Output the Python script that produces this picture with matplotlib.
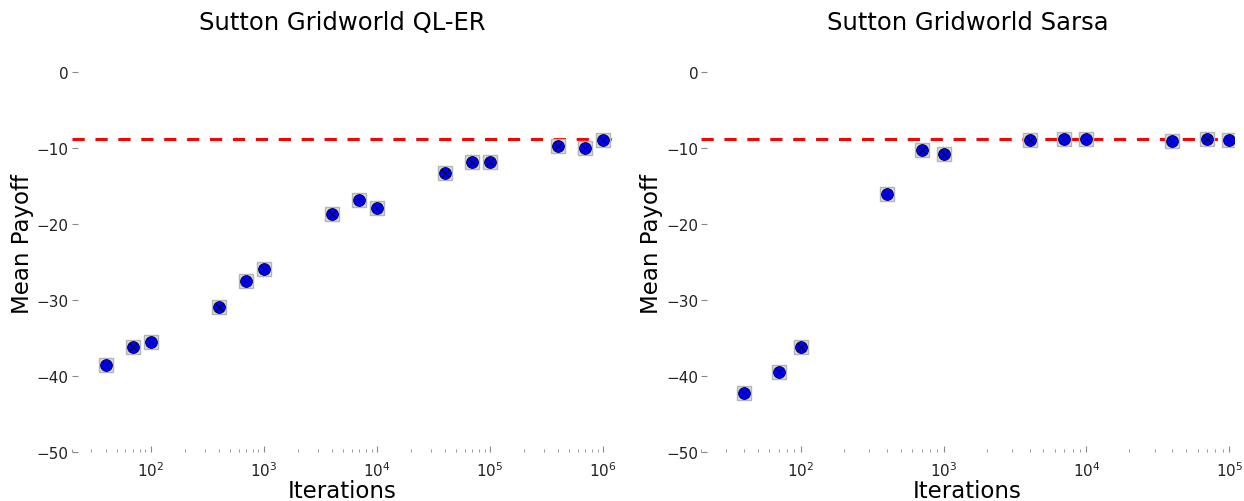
import matplotlib
matplotlib.use("Agg")
import matplotlib.pyplot as plt
import numpy as np

# QL-ER panel
ql_iters = [40, 70, 100, 400, 700, 1000, 4000, 7000, 10000,
            40000, 70000, 100000, 400000, 700000, 1000000]
ql_payoff = [-38.5, -36.2, -35.5, -30.9, -27.5, -25.9, -18.7, -16.8, -17.9,
             -13.3, -11.8, -11.8, -9.7, -10.0, -8.9]

# Sarsa panel
sarsa_iters = [40, 70, 100, 400, 700, 1000, 4000, 7000, 10000,
               40000, 70000, 100000]
sarsa_payoff = [-42.2, -39.4, -36.1, -16.0, -10.3, -10.7, -8.9, -8.8, -8.8,
                -9.1, -8.8, -8.9]

optimal = -8.8
yticks = [0, -10, -20, -30, -40, -50]


def draw(ax, x, y, title, xmax):
    ax.axhline(optimal, color='red', ls='--', lw=2.2, dashes=(4, 3.5), zorder=1)
    ax.plot(x, y, ls='none', marker='s', ms=9.5, mfc='#dcdcdc', mec='#b4b4b4', zorder=2)
    ax.plot(x, y, ls='none', marker='o', ms=8.5, mfc='#0000ff', mec='#000033', mew=0.6, zorder=3)
    ax.plot(x, y, ls='none', marker='x', ms=6, mec='#000033', mew=0.6, zorder=4)
    ax.set_xscale('log')
    ax.set_xlim(20, xmax)
    ax.set_ylim(-50, 5)
    ax.set_yticks(yticks)
    for s in ax.spines.values():
        s.set_visible(False)
    ax.tick_params(which='both', direction='in', colors='#888888',
                   labelcolor='#222222', labelsize=11)
    ax.tick_params(which='major', length=4)
    ax.tick_params(which='minor', length=2)
    ax.tick_params(axis='x', pad=6)
    ax.tick_params(axis='y', pad=2)
    ax.set_title(title, fontsize=17.5, pad=4)
    ax.set_xlabel('Iterations', fontsize=16.5, labelpad=0)
    ax.set_ylabel('Mean Payoff', fontsize=16.5, labelpad=2)


fig = plt.figure(figsize=(12.44, 5.02), dpi=100)
ax1 = fig.add_axes([0.0575, 0.097, 0.435, 0.833])
ax2 = fig.add_axes([0.5635, 0.097, 0.4285, 0.833])

draw(ax1, ql_iters, ql_payoff, 'Sutton Gridworld QL-ER', 1.22e6)
draw(ax2, sarsa_iters, sarsa_payoff, 'Sutton Gridworld Sarsa', 1.08e5)

fig.savefig('out.png', dpi=100)
